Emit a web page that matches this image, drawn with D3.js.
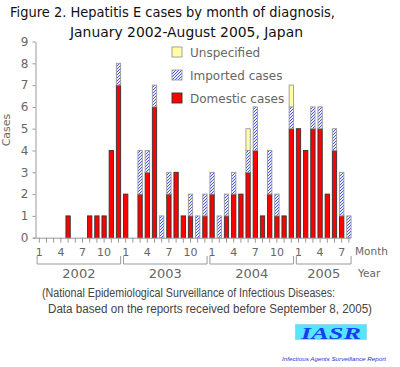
<!DOCTYPE html>
<html><head><meta charset="utf-8">
<script src="https://cdn.jsdelivr.net/npm/d3@7"></script>
<style>body{margin:0;background:#fff}svg{display:block}</style>
</head><body>
<script>
const years = [2002, 2003, 2004, 2005];
const monthsPerYear = [12, 12, 12, 8];
const domestic = [0,0,0,0,1,0,0,1,1,1,4,7, 2,0,2,3,6,0,2,3,1,1,0,1, 2,0,1,2,2,3,4,1,2,1,1,5, 5,4,5,5,2,4,1,0];
const imported = [0,0,0,0,0,0,0,0,0,0,0,1, 0,0,2,1,1,1,1,0,0,1,1,1, 1,1,1,1,0,1,2,0,2,1,0,1, 0,0,1,1,0,1,2,1];
const unspecified = [0,0,0,0,0,0,0,0,0,0,0,0, 0,0,0,0,0,0,0,0,0,0,0,0, 0,0,0,0,0,1,0,0,0,0,0,1, 0,0,0,0,0,0,0,0];
const yTicks = [0,1,2,3,4,5,6,7,8,9];
const monthLabels = [1,4,7,10];
const seriesKeys = ["domestic","imported","unspecified"];
const legendLabels = ["Unspecified","Imported cases","Domestic cases"];

const W = 400, H = 367;
const svg = d3.select("body").append("svg").attr("width", W).attr("height", H);
const defs = svg.append("defs");
const pat = defs.append("pattern").attr("id","hatch").attr("patternUnits","userSpaceOnUse")
  .attr("width",3).attr("height",3);
pat.append("rect").attr("width",3).attr("height",3).attr("fill","#eef0ff");
pat.append("path").attr("d","M-1,1 l2,-2 M0,3 l3,-3 M2,4 l2,-2").attr("stroke","#3344dd").attr("stroke-width",0.9);

const months = [];
years.forEach((y,i)=>{ for(let m=1;m<=monthsPerYear[i];m++) months.push({year:y, month:m, key:y+"-"+m}); });
const rows = months.map((d,i)=>({key:d.key, year:d.year, month:d.month, domestic:domestic[i], imported:imported[i], unspecified:unspecified[i]}));

const x = d3.scaleBand().domain(months.map(d=>d.key)).range([35.7, 352.5]).paddingInner(0.4).paddingOuter(0.2);
const y = d3.scaleLinear().domain([0,9]).range([237.7, 41.5]);

const font = "'DejaVu Sans', sans-serif";
const font2 = "'Liberation Sans', Arial, sans-serif";
const grey = "#666";

// title
svg.append("text").attr("x",10).attr("y",17).attr("font-family",font).attr("font-size",14.5)
  .attr("textLength",325).attr("lengthAdjust","spacingAndGlyphs").attr("fill","#111")
  .text("Figure 2. Hepatitis E cases by month of diagnosis,");
svg.append("text").attr("x",70).attr("y",37).attr("font-family",font).attr("font-size",14.5)
  .attr("textLength",233).attr("lengthAdjust","spacingAndGlyphs").attr("fill","#111")
  .text("January 2002-August 2005, Japan");

// bars
const stack = d3.stack().keys(seriesKeys)(rows);
const fills = {domestic:"#ff0000", imported:"url(#hatch)", unspecified:"#ffffa8"};
const strokes = {domestic:"#333", imported:"#999", unspecified:"#999"};
svg.append("g").selectAll("g").data(stack).join("g")
  .attr("fill", d=>fills[d.key]).attr("stroke", d=>strokes[d.key]).attr("stroke-width",0.9)
  .selectAll("rect").data(d=>d.filter(v=>v[1]>v[0])).join("rect")
  .attr("x", d=>x(d.data.key)).attr("width", x.bandwidth())
  .attr("y", d=>y(d[1])).attr("height", d=>y(d[0])-y(d[1]));

// y axis
const yAxis = svg.append("g").attr("transform","translate(35.5,0)")
  .call(d3.axisLeft(y).tickValues(yTicks).tickSize(3).tickPadding(4).tickSizeOuter(0));
yAxis.select(".domain").attr("stroke","#999");
yAxis.selectAll(".tick line").attr("stroke","#999");
yAxis.selectAll("text").attr("font-family",font).attr("font-size",12).attr("fill",grey);
svg.append("text").attr("transform","translate(10,130) rotate(-90)").attr("text-anchor","middle")
  .attr("font-family",font).attr("font-size",11).attr("fill",grey).text("Cases");

// x axis
const xAxis = svg.append("g").attr("transform","translate(0,237.7)")
  .call(d3.axisBottom(x).tickSize(5).tickSizeOuter(0)
    .tickFormat(k=>{const m=+k.split("-")[1]; return monthLabels.includes(m)?m:"";}));
xAxis.select(".domain").attr("stroke","#999").attr("d","M33,0.5H351");
xAxis.selectAll(".tick line").attr("stroke","#999");
xAxis.selectAll("text").attr("font-family",font).attr("font-size",11).attr("fill",grey).attr("dy","0.95em");
svg.append("text").attr("x",355).attr("y",255).attr("font-family",font).attr("font-size",10.5).attr("fill",grey).text("Month");
svg.append("text").attr("x",358).attr("y",277).attr("font-family",font).attr("font-size",10.5).attr("fill",grey).text("Year");

// year brackets
years.forEach((yr)=>{
  const ks = months.filter(d=>d.year===yr).map(d=>d.key);
  const x0 = x(ks[0]), x1 = x(ks[ks.length-1]) + x.bandwidth();
  svg.append("path").attr("d",`M${x0},256V264H${x1}V256`).attr("fill","none").attr("stroke","#999");
  svg.append("text").attr("x",(x0+x1)/2).attr("y",278).attr("text-anchor","middle")
    .attr("font-family",font).attr("font-size",13).attr("fill",grey).text(yr);
});

// legend
const lg = svg.append("g");
const legendFill = [fills.unspecified, fills.imported, fills.domestic];
const legendStroke = ["#999","#999","#333"];
legendLabels.forEach((t,i)=>{
  const yy = 47 + i*23;
  lg.append("rect").attr("x",172).attr("y",yy).attr("width",10).attr("height",10)
    .attr("fill",legendFill[i]).attr("stroke",legendStroke[i]).attr("stroke-width",0.9);
  lg.append("text").attr("x",190).attr("y",yy+9.5).attr("font-family",font).attr("font-size",12)
    .attr("fill",grey).text(t);
});

// footnote
svg.append("text").attr("x",42).attr("y",297).attr("font-family",font2).attr("font-size",12)
  .attr("textLength",293).attr("lengthAdjust","spacingAndGlyphs").attr("fill","#444")
  .text("(National Epidemiological Surveillance of Infectious Diseases:");
svg.append("text").attr("x",48).attr("y",313).attr("font-family",font2).attr("font-size",12)
  .attr("textLength",324).attr("lengthAdjust","spacingAndGlyphs").attr("fill","#444")
  .text("Data based on the reports received before September 8, 2005)");

// logo
svg.append("rect").attr("x",295.5).attr("y",324.5).attr("width",71).attr("height",15)
  .attr("fill","#55e5ff").attr("stroke","#99d8ee");
svg.append("text").attr("x",301).attr("y",338.5)
  .attr("font-family","'Liberation Serif', serif").attr("font-weight","bold").attr("font-style","italic")
  .attr("font-size",17).attr("textLength",60).attr("lengthAdjust","spacingAndGlyphs")
  .attr("fill","#1a3cf0").text("IASR");
svg.append("text").attr("x",282).attr("y",361).attr("font-family",font2)
  .attr("font-style","italic").attr("font-size",6).attr("textLength",104).attr("lengthAdjust","spacingAndGlyphs")
  .attr("fill","#2233dd").text("Infectious Agents Surveillance Report");
</script>
</body></html>
